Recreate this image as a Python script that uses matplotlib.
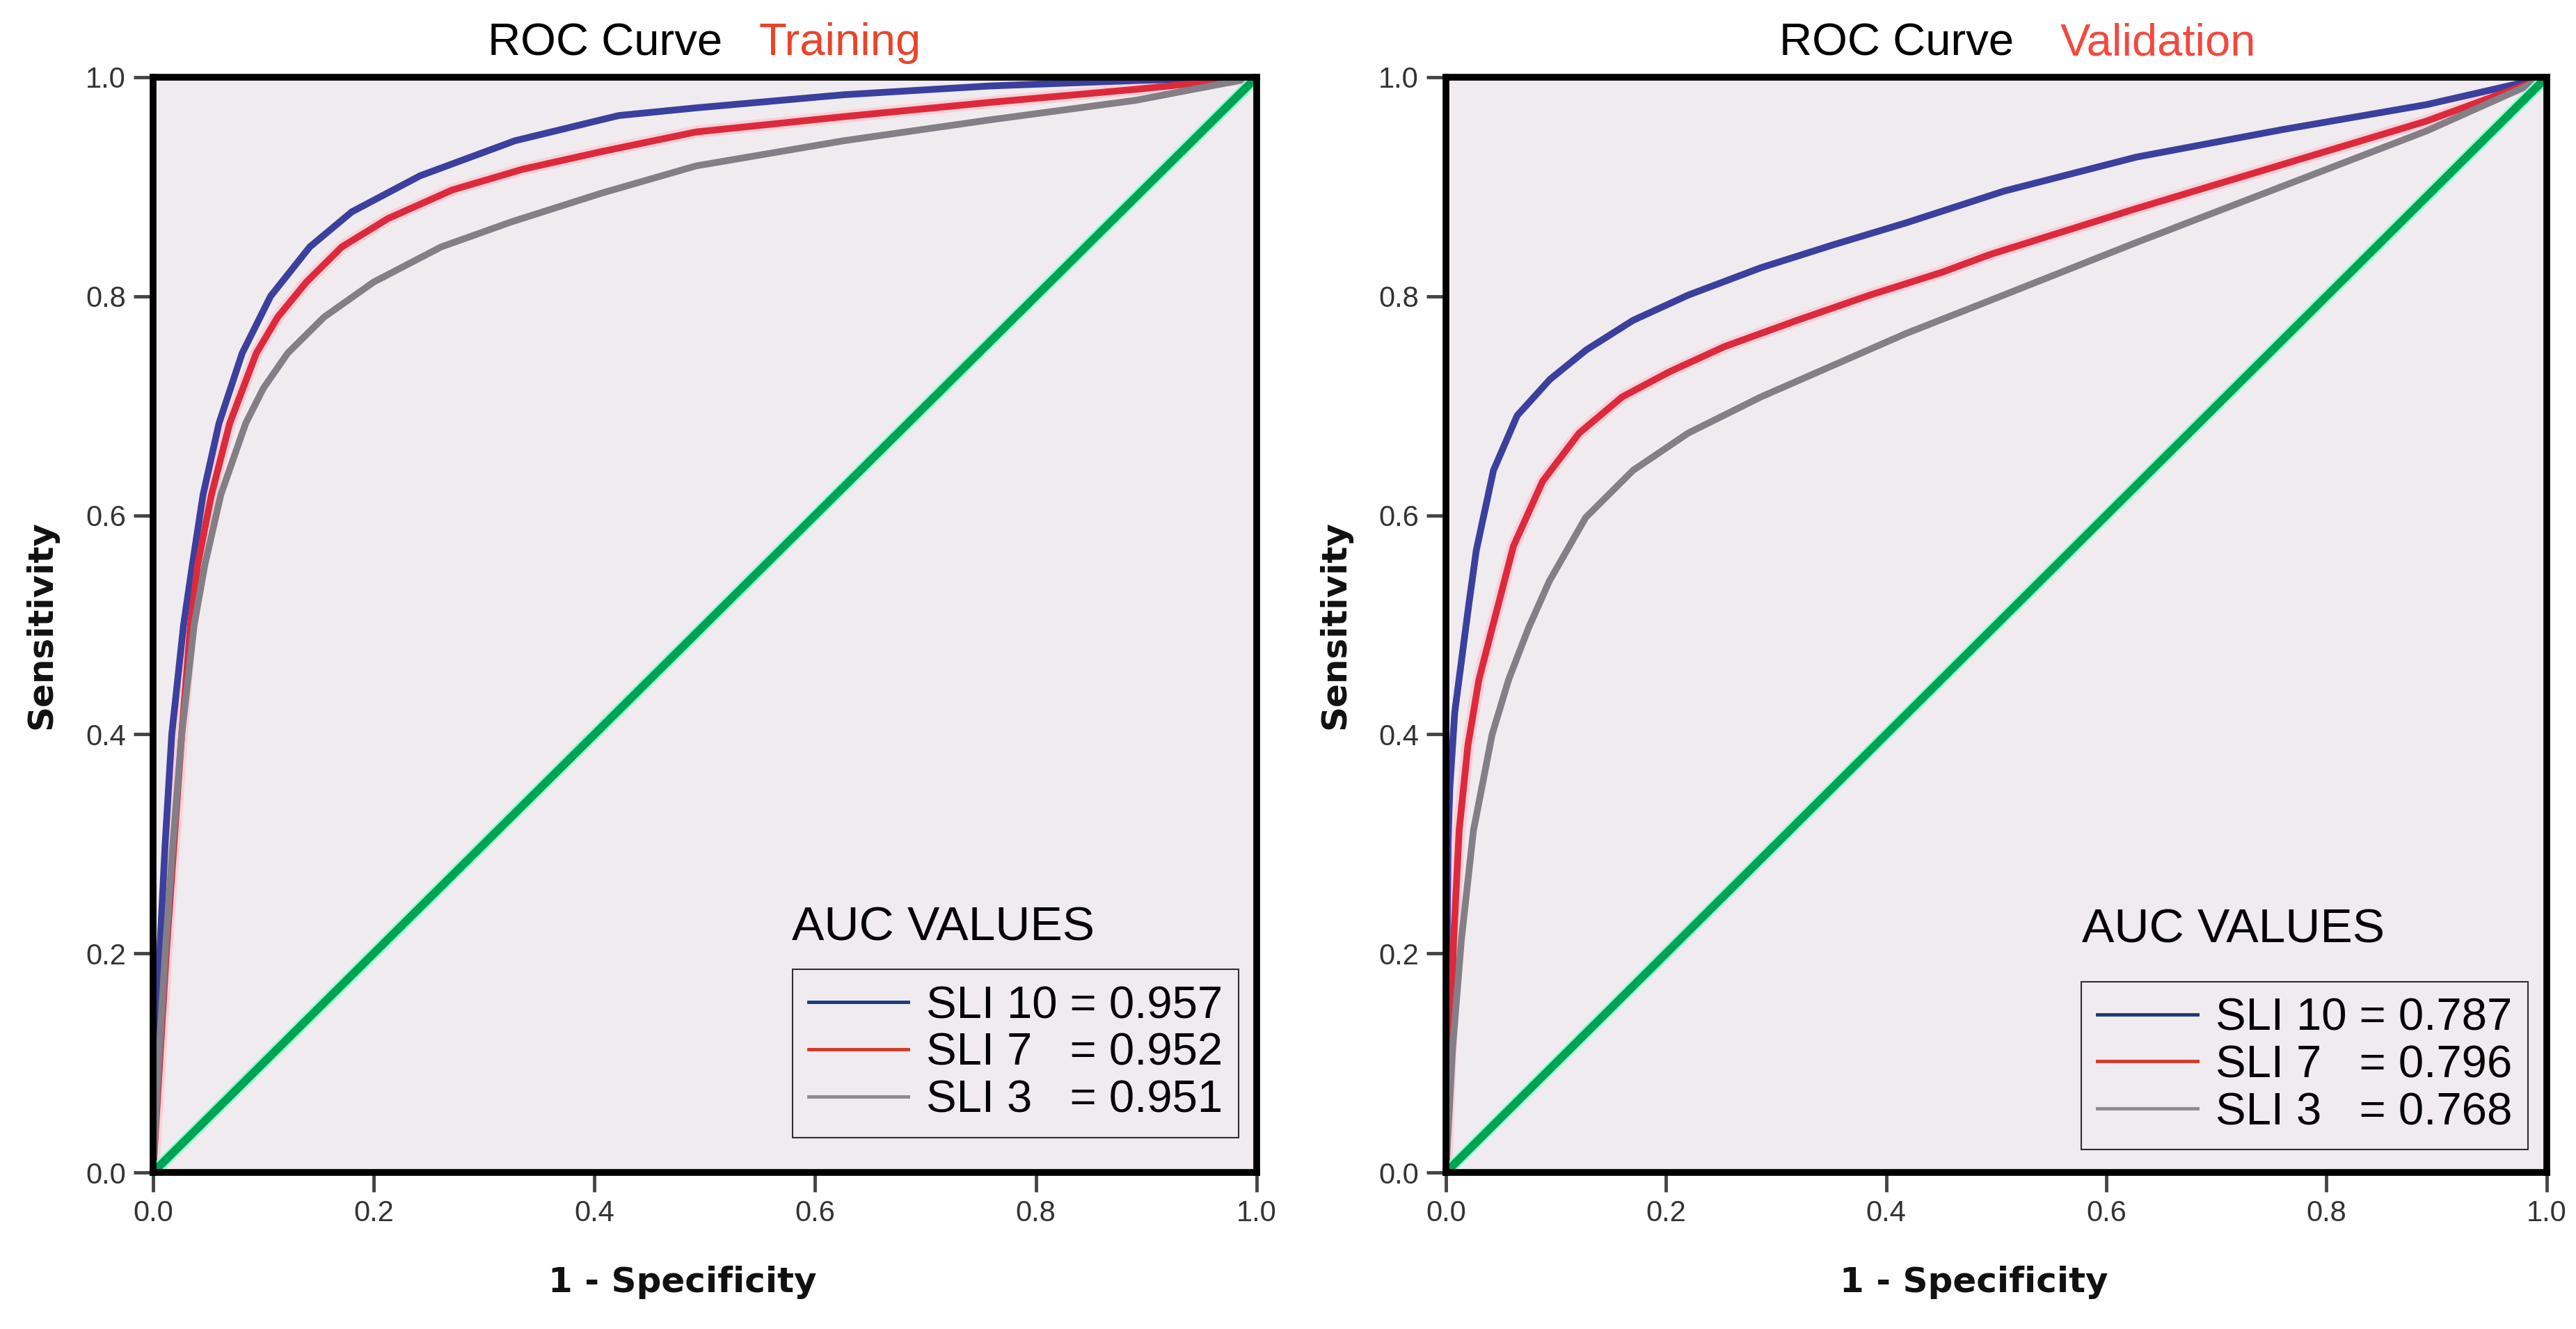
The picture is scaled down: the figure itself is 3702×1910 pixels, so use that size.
import numpy as np
import matplotlib
matplotlib.use('Agg')
import matplotlib.pyplot as plt

# ---- data ----
# Training panel
train_fpr_sli10 = [0, 0.003, 0.006, 0.011, 0.017, 0.0277, 0.0357, 0.0454, 0.0598, 0.0808,
                   0.1065, 0.142, 0.18, 0.242, 0.328, 0.422, 0.492, 0.626, 0.758, 0.891, 1.0]
train_tpr_sli10 = [0, 0.1, 0.2, 0.3, 0.4, 0.5, 0.555, 0.619, 0.684, 0.748,
                   0.80, 0.845, 0.877, 0.91, 0.942, 0.965, 0.972, 0.984, 0.992, 0.997, 1.0]
train_fpr_sli7 = [0, 0.006, 0.012, 0.019, 0.026, 0.034, 0.0405, 0.053, 0.0695, 0.0936,
                  0.113, 0.139, 0.171, 0.213, 0.271, 0.335, 0.406, 0.492, 0.626, 0.758, 0.891, 1.0]
train_tpr_sli7 = [0, 0.1, 0.2, 0.3, 0.4, 0.5, 0.555, 0.619, 0.684, 0.748,
                  0.781, 0.813, 0.845, 0.871, 0.897, 0.916, 0.932, 0.95, 0.964, 0.977, 0.989, 1.0]
train_fpr_sli3 = [0, 0.005, 0.011, 0.018, 0.026, 0.0373, 0.047, 0.0615, 0.084, 0.100,
                  0.122, 0.155, 0.200, 0.261, 0.325, 0.406, 0.492, 0.626, 0.758, 0.891, 1.0]
train_tpr_sli3 = [0, 0.1, 0.2, 0.3, 0.4, 0.5, 0.555, 0.619, 0.684, 0.716,
                  0.748, 0.781, 0.813, 0.845, 0.868, 0.894, 0.919, 0.942, 0.961, 0.979, 1.0]

# Validation panel
val_fpr_sli10 = [0, 0.0005, 0.002, 0.0035, 0.008, 0.0145, 0.021, 0.0276, 0.0432, 0.0647,
                 0.0944, 0.1275, 0.170, 0.220, 0.286, 0.352, 0.418, 0.507, 0.627, 0.759,
                 0.891, 1.0]
val_tpr_sli10 = [0, 0.15, 0.3, 0.35, 0.42, 0.47, 0.52, 0.568, 0.641, 0.691,
                 0.724, 0.751, 0.778, 0.801, 0.826, 0.847, 0.867, 0.896, 0.927, 0.952,
                 0.975, 1.0]
val_fpr_sli7 = [0, 0.004, 0.007, 0.012, 0.02, 0.03, 0.0415, 0.0614, 0.0878, 0.121,
                0.16, 0.203, 0.253, 0.319, 0.385, 0.451, 0.494, 0.627, 0.759, 0.891, 1.0]
val_tpr_sli7 = [0, 0.112, 0.212, 0.312, 0.39, 0.45, 0.495, 0.572, 0.631, 0.675,
                0.708, 0.731, 0.754, 0.778, 0.801, 0.822, 0.838, 0.88, 0.92, 0.96, 1.0]
val_fpr_sli3 = [0, 0.006, 0.014, 0.025, 0.042, 0.057, 0.075, 0.094, 0.127, 0.17,
                0.22, 0.286, 0.352, 0.418, 0.494, 0.627, 0.759, 0.891, 1.0]
val_tpr_sli3 = [0, 0.112, 0.212, 0.312, 0.4, 0.45, 0.497, 0.54, 0.598, 0.641,
                0.675, 0.708, 0.737, 0.766, 0.796, 0.849, 0.9, 0.951, 1.0]

diag = [0, 1]

train_labels = ['SLI 10 = 0.957', 'SLI 7   = 0.952', 'SLI 3   = 0.951']
val_labels = ['SLI 10 = 0.787', 'SLI 7   = 0.796', 'SLI 3   = 0.768']
ticks = [0.0, 0.2, 0.4, 0.6, 0.8, 1.0]
tick_labels = ['0.0', '0.2', '0.4', '0.6', '0.8', '1.0']

curve_colors = ['#3b3f9e', '#dc2a3c', '#847f86']
legend_colors = ['#1c3a78', '#d23a2a', '#8c8c8c']
panel_bg = '#efebef'


def draw_panel(ax, curves, labels, subtitle, subtitle_color, legend_anchor, auc_pos):
    ax.set_facecolor(panel_bg)
    # soft halo around the red curve, as in the exported original
    ax.plot(curves[1][0], curves[1][1], color='#ffc0cb', lw=13, alpha=0.6,
            solid_joinstyle='round')
    for (x, y), c in zip(curves, curve_colors):
        ax.plot(x, y, color=c, lw=7, solid_joinstyle='round')
    ax.plot(diag, diag, color='#8fffd6', lw=12, solid_capstyle='butt')
    ax.plot(diag, diag, color='#00a352', lw=8.5, solid_capstyle='butt')

    ax.set_xlim(0, 1)
    ax.set_ylim(0, 1)
    ax.set_xticks(ticks)
    ax.set_yticks(ticks)
    ax.set_xticklabels(tick_labels, family='Liberation Sans', fontsize=30, color='#333333')
    ax.set_yticklabels(tick_labels, family='Liberation Sans', fontsize=30, color='#333333')
    ax.tick_params(length=20, width=3.5, color='#444444', pad=8)
    for s in ax.spines.values():
        s.set_linewidth(7)
        s.set_color('black')

    ax.set_xlabel('1 - Specificity', family='DejaVu Sans', fontweight='bold',
                  fontsize=36, color='#111111')
    ax.xaxis.set_label_coords(0.48, -0.085)
    ax.set_ylabel('Sensitivity', family='DejaVu Sans', fontweight='bold',
                  fontsize=36, color='#111111')
    ax.yaxis.set_label_coords(-0.086, 0.5)

    ax.text(0.516, 1.02, 'ROC Curve', transform=ax.transAxes, ha='right', va='baseline',
            family='Liberation Sans', fontsize=47, color='black')
    ax.text(auc_pos[2], 1.02, subtitle, transform=ax.transAxes, ha='left', va='baseline',
            family='Liberation Sans', fontsize=47, color=subtitle_color)

    handles = [plt.Line2D([], [], color=c, lw=3.5) for c in legend_colors]
    leg = ax.legend(handles, labels, loc='lower right', bbox_to_anchor=legend_anchor,
                    prop={'family': 'Liberation Sans', 'size': 47}, frameon=True,
                    fancybox=False, edgecolor='black', facecolor=panel_bg,
                    handlelength=2.2, handletextpad=0.4, labelspacing=0.12,
                    borderpad=0.35, borderaxespad=0)
    leg.get_frame().set_linewidth(1.5)
    ax.text(auc_pos[0], auc_pos[1], 'AUC VALUES', transform=ax.transAxes, ha='left',
            va='baseline', family='Liberation Sans', fontsize=50, color='black')


fig = plt.figure(figsize=(37.02, 19.10), dpi=100)
ax1 = fig.add_axes([0.0594, 0.1178, 0.4284, 0.8241])
ax2 = fig.add_axes([0.5613, 0.1178, 0.4273, 0.8241])

draw_panel(ax1,
           [(train_fpr_sli10, train_tpr_sli10), (train_fpr_sli7, train_tpr_sli7),
            (train_fpr_sli3, train_tpr_sli3)],
           train_labels, 'Training', '#e8452a', (0.984, 0.032), (0.579, 0.212, 0.549))
draw_panel(ax2,
           [(val_fpr_sli10, val_tpr_sli10), (val_fpr_sli7, val_tpr_sli7),
            (val_fpr_sli3, val_tpr_sli3)],
           val_labels, 'Validation', '#f04a40', (0.983, 0.021), (0.578, 0.21, 0.558))

fig.savefig('out.png', dpi=100, facecolor='white')
